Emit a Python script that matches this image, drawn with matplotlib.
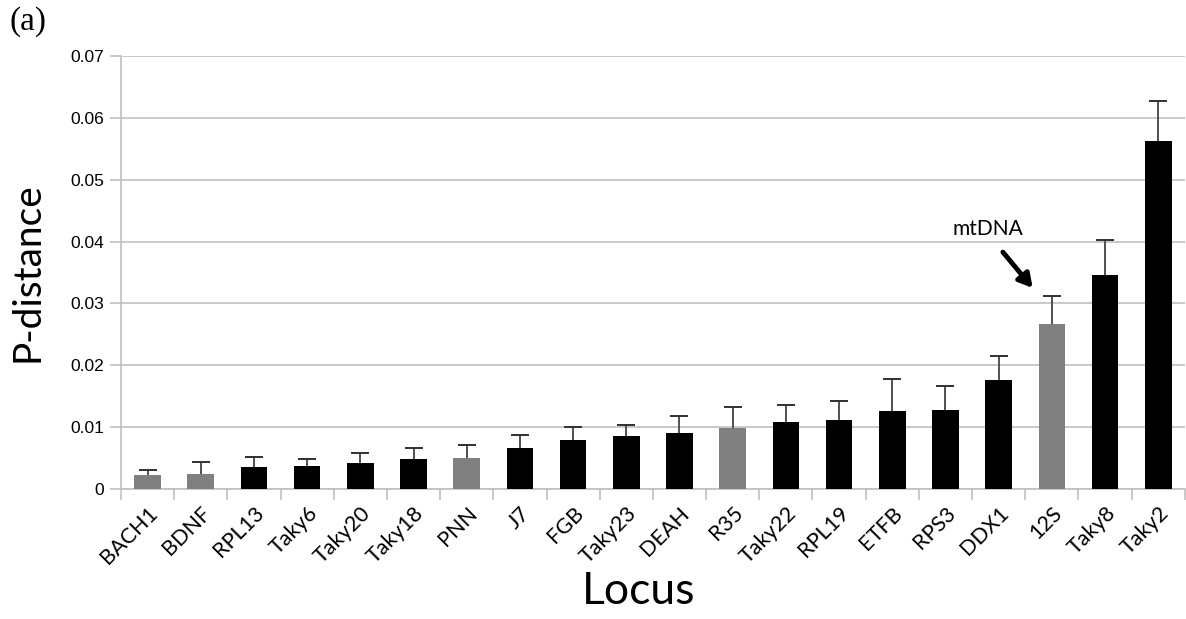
import matplotlib
matplotlib.use("Agg")
import matplotlib.pyplot as plt
import numpy as np

loci = ["BACH1", "BDNF", "RPL13", "Taky6", "Taky20", "Taky18", "PNN", "J7",
        "FGB", "Taky23", "DEAH", "R35", "Taky22", "RPL19", "ETFB", "RPS3",
        "DDX1", "12S", "Taky8", "Taky2"]
pdist = [0.0022, 0.0025, 0.0035, 0.0037, 0.0042, 0.0048, 0.0050, 0.0066,
         0.0079, 0.0085, 0.0090, 0.0098, 0.0108, 0.0111, 0.0126, 0.0127,
         0.0176, 0.0266, 0.0346, 0.0563]
upper_err = [0.0008, 0.0018, 0.0016, 0.0012, 0.0016, 0.0018, 0.0021, 0.0022,
             0.0022, 0.0019, 0.0028, 0.0034, 0.0028, 0.0031, 0.0052, 0.0040,
             0.0039, 0.0046, 0.0056, 0.0065]
grey_loci = ["BACH1", "BDNF", "PNN", "R35", "12S"]

colors = ["#808080" if name in grey_loci else "black" for name in loci]
x = np.arange(len(loci))
tops = np.array(pdist) + np.array(upper_err)

fig = plt.figure(figsize=(11.86, 6.19), dpi=100)
ax = fig.add_axes([0.102, 0.21, 0.897, 0.6995])

ax.bar(x, pdist, width=0.5, color=colors, zorder=3)
# upper error only, no cap at the bar top
ax.errorbar(x, pdist, yerr=[np.zeros(len(loci)), upper_err], fmt="none",
            ecolor="#505050", elinewidth=1.4, capsize=0, zorder=2)
ax.plot(x, tops, linestyle="none", marker="_", markersize=13,
        markeredgewidth=1.4, color="#303030", zorder=4)

ax.set_xlim(-0.5, len(loci) - 0.5)
ax.set_ylim(0, 0.07)
ax.set_yticks(np.arange(0, 0.0701, 0.01))
ax.set_yticklabels(["0", "0.01", "0.02", "0.03", "0.04", "0.05", "0.06", "0.07"],
                   fontsize=12.5, family="Liberation Sans")
ax.yaxis.grid(True, color="#c0c0c0", linewidth=1.2, zorder=0)
ax.set_axisbelow(True)

ax.set_xticks(x)
ax.set_xticklabels(loci, rotation=45, ha="right", rotation_mode="anchor",
                   fontsize=15.5, family="Lato")
ax.set_xticks(np.arange(-0.5, len(loci), 1), minor=True)
ax.tick_params(axis="x", which="major", length=0, pad=10)
ax.tick_params(axis="x", which="minor", length=8, color="#c0c0c0", width=1.2)
ax.tick_params(axis="y", length=8, color="#c0c0c0", width=1.2, pad=4)

for side in ["top", "right"]:
    ax.spines[side].set_visible(False)
for side in ["left", "bottom"]:
    ax.spines[side].set_color("#c0c0c0")
    ax.spines[side].set_linewidth(1.2)

ax.set_ylabel("P-distance", fontsize=28, family="Lato", labelpad=18)
ax.set_xlabel("Locus", fontsize=32, family="Lato", labelpad=2)
ax.xaxis.set_label_coords(0.487, -0.19)

ax.annotate("", xy=(16.64, 0.0325), xytext=(16.08, 0.0383),
            arrowprops=dict(arrowstyle="-|>,head_length=0.8,head_width=0.45",
                            color="black", lw=3.5, shrinkA=0, shrinkB=0))
ax.text(15.8, 0.0420, "mtDNA", fontsize=15, family="Lato", ha="center", va="center")

fig.text(0.008, 0.99, "(a)", fontsize=24, family="Liberation Serif", ha="left", va="top")

fig.savefig("out.png", dpi=100)
